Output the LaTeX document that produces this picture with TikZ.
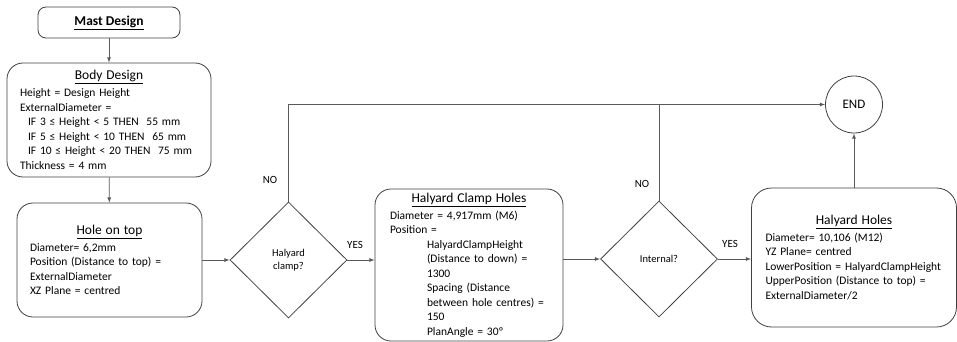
\documentclass[tikz,border=0pt]{standalone}
\usepackage{fontspec}
\setmainfont{Carlito}
\usepackage{tikz}
\usetikzlibrary{shapes.geometric}
\hyphenpenalty=10000

\tikzset{
  flowbox/.style={draw=black!75, line width=0.8pt, rounded corners=16pt, align=left,
    inner xsep=13pt, inner ysep=2pt, font=\fontsize{11.5}{14.5}\selectfont},
  decision/.style={draw=black!75, line width=0.8pt, diamond, minimum width=117pt,
    minimum height=116pt, inner sep=0pt, align=center, font=\fontsize{10.5}{13.5}\selectfont},
  flowline/.style={draw=black!65, line width=0.8pt},
  answer/.style={font=\fontsize{11}{13}\selectfont},
}
\newcommand{\boxtitle}[1]{\makebox[\linewidth]{\fontsize{13.5}{15}\selectfont\underline{#1}}}

\begin{document}
\begin{tikzpicture}[x=1pt, y=-1pt]
\useasboundingbox (0,0) rectangle (957,342);
\node [flowbox, rounded corners=8pt, minimum width=142pt, minimum height=31pt, align=center, inner xsep=0pt] (mast) at (109,22.5) {\fontsize{13.5}{16}\selectfont\bfseries\underline{Mast Design}};
\node [flowbox, text width=178pt, minimum height=114pt, inner ysep=0pt] (body) at (109,120) {\boxtitle{Body Design}\\[2.5pt]
  Height = Design Height\\
  ExternalDiameter =\\
  \hspace*{8pt}IF 3 ≤ Height < 5 THEN\ \ 55 mm\\
  \hspace*{8pt}IF 5 ≤ Height < 10 THEN\ \ 65 mm\\
  \hspace*{8pt}IF 10 ≤ Height < 20 THEN\ \ 75 mm\\
  Thickness = 4 mm};
\node [flowbox, text width=159pt, minimum height=114pt] (hole) at (109.5,260) {\boxtitle{Hole on top}\\[2.5pt]
  Diameter= 6,2mm\\
  Position (Distance to top) =\\
  ExternalDiameter\\
  XZ Plane = centred};
\node [decision] (clampq) at (288.5,260) {Halyard\\clamp?};
\node [flowbox, text width=158pt, inner xsep=15pt, inner ysep=0pt, minimum height=152pt] (clamp) at (469,265) {\boxtitle{Halyard Clamp Holes}\\[2.5pt]
  Diameter = 4,917mm (M6)\\
  Position =\\
  \hspace*{37pt}HalyardClampHeight\\
  \hspace*{37pt}(Distance to down) =\\
  \hspace*{37pt}1300\\
  \hspace*{37pt}Spacing (Distance\\
  \hspace*{37pt}between hole centres) =\\
  \hspace*{37pt}150\\
  \hspace*{37pt}PlanAngle = 30º};
\node [decision] (internalq) at (659,259) {Internal?};
\node [flowbox, rounded corners=20pt, text width=177pt, inner xsep=14pt, minimum height=139pt] (halyard) at (854,257.5) {\boxtitle{Halyard Holes}\\[2.5pt]
  Diameter= 10,106 (M12)\\
  YZ Plane= centred\\
  LowerPosition = HalyardClampHeight\\
  UpperPosition (Distance to top) =\\
  ExternalDiameter/2};
\node [draw=black!75, line width=0.8pt, circle, minimum size=57pt, inner sep=0pt, font=\fontsize{13}{15}\selectfont] (end) at (854,104.5) {END};
\node [answer] (no1) at (270,180) {NO};
\node [answer] (yes1) at (355,245) {YES};
\node [answer] (no2) at (642,184) {NO};
\node [answer] (yes2) at (730,244) {YES};
\draw [flowline, -latex] (mast) -- (body);
\draw [flowline, -latex] (body) -- (hole);
\draw [flowline, -latex] (hole) -- (clampq);
\draw [flowline, -latex] (clampq) -- (clamp.west |- clampq);
\draw [flowline, -latex] (clamp.east |- internalq) -- (internalq);
\draw [flowline, -latex] (internalq) -- (halyard.west |- internalq);
\draw [flowline, -latex] (clampq.north) |- (end.west);
\draw [flowline] (internalq.north) -- (internalq.north |- end.west);
\draw [flowline, -latex] (halyard) -- (end);
\end{tikzpicture}
\end{document}
